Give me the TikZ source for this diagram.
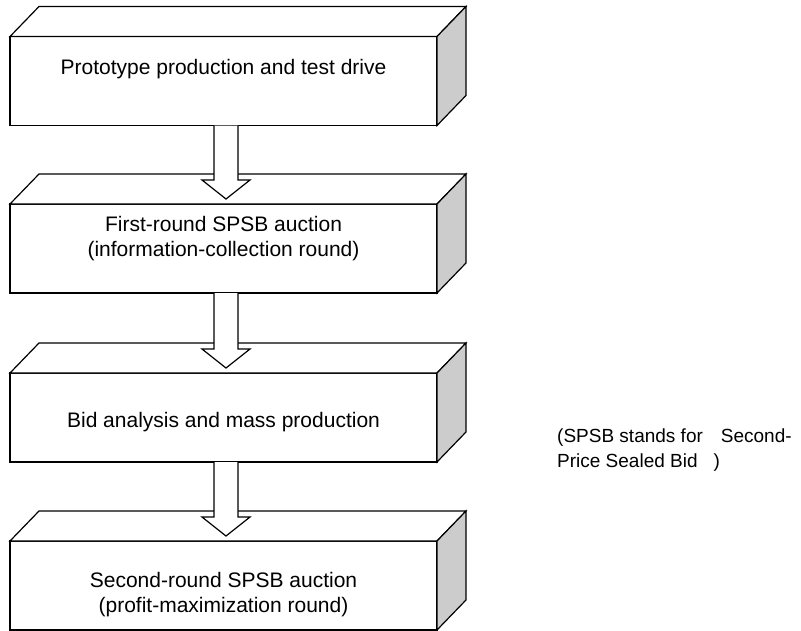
\documentclass[tikz,border=0pt]{standalone}
\usepackage{fontspec}
\setmainfont{Liberation Sans}
\usetikzlibrary{calc}

\begin{document}
\begin{tikzpicture}[x=1pt,y=-1pt,
  face/.style={draw=black,line width=1.2pt,fill=white,minimum width=427pt,minimum height=89pt,inner sep=0pt,outer sep=0pt},
  topface/.style={draw=black,line width=1.2pt,fill=white},
  sideface/.style={draw=black,line width=1.2pt,fill=sidegray},
  blockarrow/.style={draw=black,line width=1.2pt,fill=white},
  txt/.style={align=center,font=\fontsize{21}{25}\selectfont}]
  % Couleur des côtés
  \definecolor{sidegray}{RGB}{204,204,204}

  \useasboundingbox (0,0) rectangle (801,630);

  % Faces avant des boîtes
  \node[face] (proto) at (223.5,81) {};
  \node[face] (first) at (223.5,248.5) {};
  \node[face] (bid) at (223.5,417.5) {};
  \node[face] (second) at (223.5,585.5) {};

  % Dessus et côtés
  \draw[topface] (proto.north west) -- ++(29,-30) -- ($(proto.north east)+(29,-30)$) -- (proto.north east) -- cycle;
  \draw[sideface] (proto.north east) -- ++(29,-30) -- ($(proto.south east)+(29,-30)$) -- (proto.south east) -- cycle;
  \draw[topface] (first.north west) -- ++(29,-30) -- ($(first.north east)+(29,-30)$) -- (first.north east) -- cycle;
  \draw[sideface] (first.north east) -- ++(29,-30) -- ($(first.south east)+(29,-30)$) -- (first.south east) -- cycle;
  \draw[topface] (bid.north west) -- ++(29,-30) -- ($(bid.north east)+(29,-30)$) -- (bid.north east) -- cycle;
  \draw[sideface] (bid.north east) -- ++(29,-30) -- ($(bid.south east)+(29,-30)$) -- (bid.south east) -- cycle;
  \draw[topface] (second.north west) -- ++(29,-30) -- ($(second.north east)+(29,-30)$) -- (second.north east) -- cycle;
  \draw[sideface] (second.north east) -- ++(29,-30) -- ($(second.south east)+(29,-30)$) -- (second.south east) -- cycle;

  % Flèches
  \draw[blockarrow] ($(proto.south)+(-9.5,0)$) -- ($(first.north)+(-9.5,-24)$) -- ($(first.north)+(-21.5,-24)$) -- ($(first.north)+(2.5,-5)$) -- ($(first.north)+(26.5,-24)$) -- ($(first.north)+(14.5,-24)$) -- ($(proto.south)+(14.5,0)$);
  \draw[blockarrow] ($(first.south)+(-9.5,0)$) -- ($(bid.north)+(-9.5,-24)$) -- ($(bid.north)+(-21.5,-24)$) -- ($(bid.north)+(2.5,-5)$) -- ($(bid.north)+(26.5,-24)$) -- ($(bid.north)+(14.5,-24)$) -- ($(first.south)+(14.5,0)$);
  \draw[blockarrow] ($(bid.south)+(-9.5,0)$) -- ($(second.north)+(-9.5,-24)$) -- ($(second.north)+(-21.5,-24)$) -- ($(second.north)+(2.5,-5)$) -- ($(second.north)+(26.5,-24)$) -- ($(second.north)+(14.5,-24)$) -- ($(bid.south)+(14.5,0)$);

  % Textes
  \node[txt] (protoT) at ($(proto.center)+(0,-12)$) {Prototype production and test drive};
  \node[txt] (firstT) at ($(first.center)+(0,-10)$) {First-round SPSB auction\\(information-collection round)};
  \node[txt] (bidT) at ($(bid.center)+(0,4.5)$) {Bid analysis and mass production};
  \node[txt] (secondT) at ($(second.center)+(0,9)$) {Second-round SPSB auction\\(profit-maximization round)};

  % Note
  \node[align=left,anchor=west,inner sep=0pt,font=\fontsize{19}{25}\selectfont] (note) at (557,450) {(SPSB stands for\hspace{18pt}Second-\\Price Sealed Bid\hspace{16pt})};
\end{tikzpicture}
\end{document}
